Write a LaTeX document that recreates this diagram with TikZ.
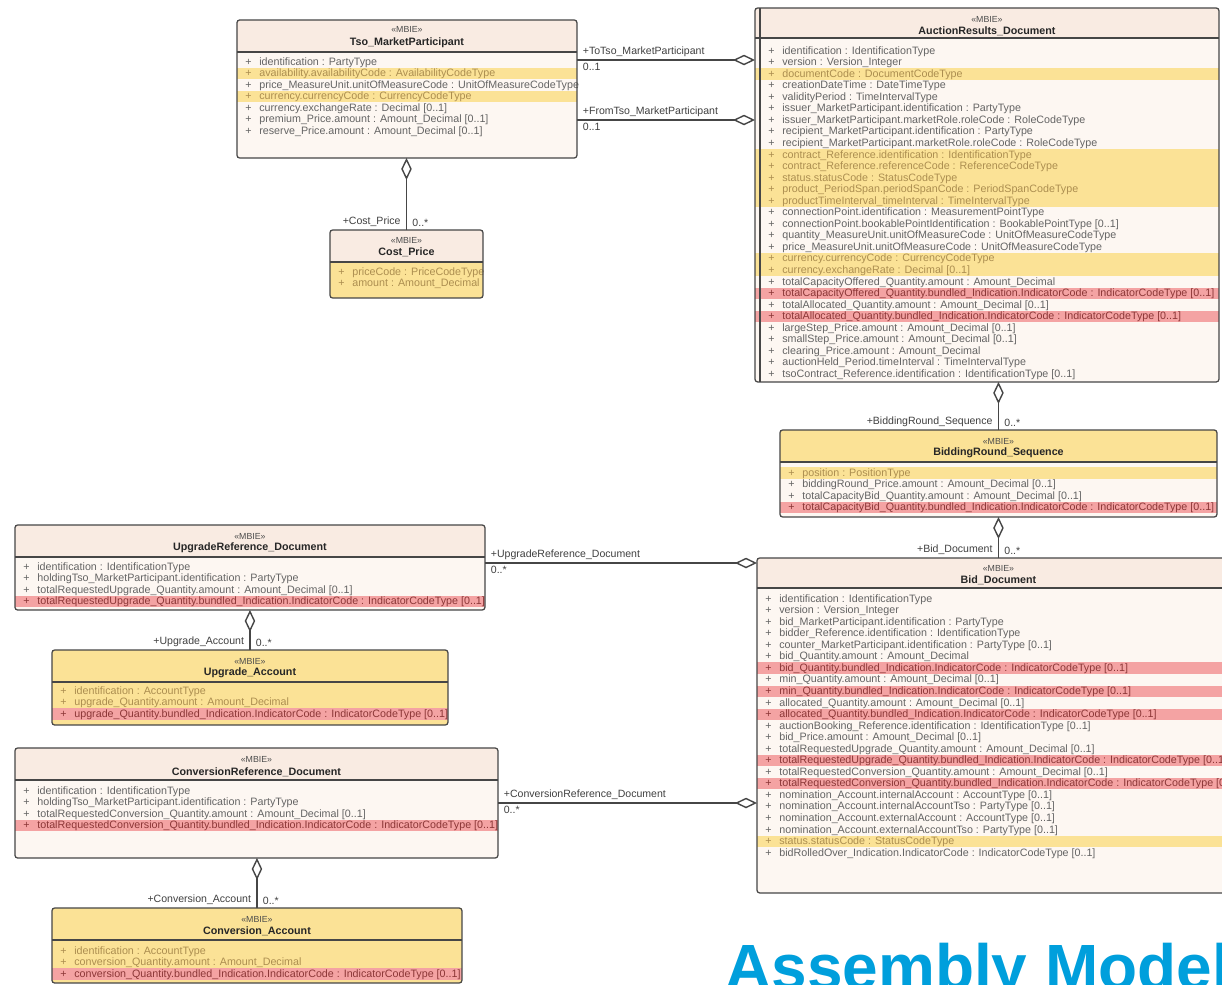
\documentclass[tikz,border=0pt]{standalone}
\usepackage{fontspec}
\setmainfont{Liberation Sans}
\usetikzlibrary{arrows.meta}

\definecolor{bodyP}{RGB}{253,247,242}
\definecolor{headP}{RGB}{249,235,226}
\definecolor{hlY}{RGB}{251,226,150}
\definecolor{hlR}{RGB}{244,163,163}
\colorlet{bandp}{bodyP}
\colorlet{bandy}{hlY}
\colorlet{bandr}{hlR}
\definecolor{textp}{RGB}{100,100,100}
\definecolor{texty}{RGB}{172,142,80}
\definecolor{textr}{RGB}{140,55,55}
\definecolor{lineC}{RGB}{70,70,70}
\definecolor{titleBlue}{RGB}{0,159,220}

\tikzset{
  classbox/.style={rectangle, anchor=north west, inner sep=0pt, outer sep=0pt, fill=bodyP},
  frame/.style={draw=lineC, line width=0.7pt, rounded corners=1.5pt},
  divider/.style={draw=lineC, line width=0.7pt},
  stereo/.style={font=\fontsize{5}{6}\selectfont, text=black!70, inner sep=0pt},
  cname/.style={font=\bfseries\fontsize{6.1}{7}\selectfont, text=black!85, inner sep=0pt},
  attr/.style={anchor=base west, inner sep=0pt, font=\fontsize{6.1}{7}\selectfont},
  role/.style={font=\fontsize{6}{7}\selectfont, text=black!75, inner xsep=3pt, inner ysep=1.5pt},
  aggr/.style={draw=lineC, line width=0.8pt, -{Diamond[fill=white, length=4.4mm, width=2.1mm]}}
}

% rows of a class: [plus offset]{class}{y of first row}{code/text list}
\newcommand{\umlrows}[4][0]{%
  \foreach \hl/\txt [count=\i] in {#4} {
    \pgfmathsetmacro{\ry}{#3+(\i-1)*11.54}
    \pgfmathsetmacro{\ya}{\ry-5.77}
    \pgfmathsetmacro{\yb}{\ry+5.77}
    \pgfmathsetmacro{\rb}{\ry+3.2}
    \fill[fill=band\hl] (#2.west |- 0,\ya) rectangle (#2.east |- 0,\yb);
    \path (#2.west |- 0,\rb) ++(8+#1,0) node[attr, text=text\hl] {+}
      ++(14,0) node[attr, text=text\hl] {\txt};
  }%
}

\begin{document}
\begin{tikzpicture}[x=0.02cm, y=-0.02cm]
  \useasboundingbox (0,0) rectangle (1222,984);
  \clip (0,0) rectangle (1222,984);
  \fill[white] (0,0) rectangle (1222,984);

  % Classes
  % Tso_MarketParticipant
  \node[classbox, minimum width=6.8cm, minimum height=2.76cm] (tso) at (237,20) {};
  \fill[headP] (tso.north west) rectangle (tso.east |- 0,52);
  \umlrows{tso}{62}{p/{identification : PartyType},
    y/{availability.availabilityCode : AvailabilityCodeType},
    p/{price\_MeasureUnit.unitOfMeasureCode : UnitOfMeasureCodeType},
    y/{currency.currencyCode : CurrencyCodeType},
    p/{currency.exchangeRate : Decimal [0..1]},
    p/{premium\_Price.amount : Amount\_Decimal [0..1]},
    p/{reserve\_Price.amount : Amount\_Decimal [0..1]}}
  \node[stereo] at (tso.north |- 0,29) {«MBIE»};
  \node[cname] at (tso.north |- 0,43) {Tso\_MarketParticipant};
  \draw[frame] (tso.north west) rectangle (tso.south east);
  \draw[divider] (tso.west |- 0,52) -- (tso.east |- 0,52);

  % Cost_Price
  \node[classbox, fill=hlY, minimum width=3.06cm, minimum height=1.36cm] (cost) at (330,230) {};
  \fill[headP] (cost.north west) rectangle (cost.east |- 0,262);
  \umlrows{cost}{272}{y/{priceCode : PriceCodeType},
    y/{amount : Amount\_Decimal}}
  \node[stereo] at (cost.north |- 0,240) {«MBIE»};
  \node[cname] at (cost.north |- 0,252) {Cost\_Price};
  \draw[frame] (cost.north west) rectangle (cost.south east);
  \draw[divider] (cost.west |- 0,262) -- (cost.east |- 0,262);

  % AuctionResults_Document
  \node[classbox, minimum width=9.28cm, minimum height=7.48cm] (ar) at (755,8) {};
  \fill[headP] (ar.north west) rectangle (ar.east |- 0,38);
  \umlrows[5]{ar}{51}{p/{identification : IdentificationType},
    p/{version : Version\_Integer},
    y/{documentCode : DocumentCodeType},
    p/{creationDateTime : DateTimeType},
    p/{validityPeriod : TimeIntervalType},
    p/{issuer\_MarketParticipant.identification : PartyType},
    p/{issuer\_MarketParticipant.marketRole.roleCode : RoleCodeType},
    p/{recipient\_MarketParticipant.identification : PartyType},
    p/{recipient\_MarketParticipant.marketRole.roleCode : RoleCodeType},
    y/{contract\_Reference.identification : IdentificationType},
    y/{contract\_Reference.referenceCode : ReferenceCodeType},
    y/{status.statusCode : StatusCodeType},
    y/{product\_PeriodSpan.periodSpanCode : PeriodSpanCodeType},
    y/{productTimeInterval\_timeInterval : TimeIntervalType},
    p/{connectionPoint.identification : MeasurementPointType},
    p/{connectionPoint.bookablePointIdentification : BookablePointType [0..1]},
    p/{quantity\_MeasureUnit.unitOfMeasureCode : UnitOfMeasureCodeType},
    p/{price\_MeasureUnit.unitOfMeasureCode : UnitOfMeasureCodeType},
    y/{currency.currencyCode : CurrencyCodeType},
    y/{currency.exchangeRate : Decimal [0..1]},
    p/{totalCapacityOffered\_Quantity.amount : Amount\_Decimal},
    r/{totalCapacityOffered\_Quantity.bundled\_Indication.IndicatorCode : IndicatorCodeType [0..1]},
    p/{totalAllocated\_Quantity.amount : Amount\_Decimal [0..1]},
    r/{totalAllocated\_Quantity.bundled\_Indication.IndicatorCode : IndicatorCodeType [0..1]},
    p/{largeStep\_Price.amount : Amount\_Decimal [0..1]},
    p/{smallStep\_Price.amount : Amount\_Decimal [0..1]},
    p/{clearing\_Price.amount : Amount\_Decimal},
    p/{auctionHeld\_Period.timeInterval : TimeIntervalType},
    p/{tsoContract\_Reference.identification : IdentificationType [0..1]}}
  \node[stereo] at (ar.north |- 0,19) {«MBIE»};
  \node[cname] at (ar.north |- 0,31) {AuctionResults\_Document};
  \draw[frame] (ar.north west) rectangle (ar.south east);
  \draw[divider] (ar.west |- 0,38) -- (ar.east |- 0,38);
  \draw[divider] (760,8) -- (760,382);

  % BiddingRound_Sequence
  \node[classbox, minimum width=8.74cm, minimum height=1.74cm] (br) at (780,430) {};
  \fill[hlY] (br.north west) rectangle (br.east |- 0,462);
  \umlrows{br}{473}{y/{position : PositionType},
    p/{biddingRound\_Price.amount : Amount\_Decimal [0..1]},
    p/{totalCapacityBid\_Quantity.amount : Amount\_Decimal [0..1]},
    r/{totalCapacityBid\_Quantity.bundled\_Indication.IndicatorCode : IndicatorCodeType [0..1]}}
  \node[stereo] at (br.north |- 0,441) {«MBIE»};
  \node[cname] at (br.north |- 0,453) {BiddingRound\_Sequence};
  \draw[frame] (br.north west) rectangle (br.south east);
  \draw[divider] (br.west |- 0,462) -- (br.east |- 0,462);

  % Bid_Document
  \node[classbox, minimum width=9.66cm, minimum height=6.7cm] (bid) at (757,558) {};
  \fill[headP] (bid.north west) rectangle (bid.east |- 0,588);
  \umlrows{bid}{599}{p/{identification : IdentificationType},
    p/{version : Version\_Integer},
    p/{bid\_MarketParticipant.identification : PartyType},
    p/{bidder\_Reference.identification : IdentificationType},
    p/{counter\_MarketParticipant.identification : PartyType [0..1]},
    p/{bid\_Quantity.amount : Amount\_Decimal},
    r/{bid\_Quantity.bundled\_Indication.IndicatorCode : IndicatorCodeType [0..1]},
    p/{min\_Quantity.amount : Amount\_Decimal [0..1]},
    r/{min\_Quantity.bundled\_Indication.IndicatorCode : IndicatorCodeType [0..1]},
    p/{allocated\_Quantity.amount : Amount\_Decimal [0..1]},
    r/{allocated\_Quantity.bundled\_Indication.IndicatorCode : IndicatorCodeType [0..1]},
    p/{auctionBooking\_Reference.identification : IdentificationType [0..1]},
    p/{bid\_Price.amount : Amount\_Decimal [0..1]},
    p/{totalRequestedUpgrade\_Quantity.amount : Amount\_Decimal [0..1]},
    r/{totalRequestedUpgrade\_Quantity.bundled\_Indication.IndicatorCode : IndicatorCodeType [0..1]},
    p/{totalRequestedConversion\_Quantity.amount : Amount\_Decimal [0..1]},
    r/{totalRequestedConversion\_Quantity.bundled\_Indication.IndicatorCode : IndicatorCodeType [0..1]},
    p/{nomination\_Account.internalAccount : AccountType [0..1]},
    p/{nomination\_Account.internalAccountTso : PartyType [0..1]},
    p/{nomination\_Account.externalAccount : AccountType [0..1]},
    p/{nomination\_Account.externalAccountTso : PartyType [0..1]},
    y/{status.statusCode : StatusCodeType},
    p/{bidRolledOver\_Indication.IndicatorCode : IndicatorCodeType [0..1]}}
  \node[stereo] at (bid.north |- 0,568) {«MBIE»};
  \node[cname] at (bid.north |- 0,580) {Bid\_Document};
  \draw[frame] (bid.north west) rectangle (bid.south east);
  \draw[divider] (bid.west |- 0,588) -- (bid.east |- 0,588);

  % UpgradeReference_Document
  \node[classbox, minimum width=9.4cm, minimum height=1.7cm] (upg) at (15,525) {};
  \fill[headP] (upg.north west) rectangle (upg.east |- 0,557);
  \umlrows{upg}{567}{p/{identification : IdentificationType},
    p/{holdingTso\_MarketParticipant.identification : PartyType},
    p/{totalRequestedUpgrade\_Quantity.amount : Amount\_Decimal [0..1]},
    r/{totalRequestedUpgrade\_Quantity.bundled\_Indication.IndicatorCode : IndicatorCodeType [0..1]}}
  \node[stereo] at (upg.north |- 0,536) {«MBIE»};
  \node[cname] at (upg.north |- 0,548) {UpgradeReference\_Document};
  \draw[frame] (upg.north west) rectangle (upg.south east);
  \draw[divider] (upg.west |- 0,557) -- (upg.east |- 0,557);

  % Upgrade_Account
  \node[classbox, fill=hlY, minimum width=7.92cm, minimum height=1.5cm] (ua) at (52,650) {};
  \umlrows{ua}{691}{y/{identification : AccountType},
    y/{upgrade\_Quantity.amount : Amount\_Decimal},
    r/{upgrade\_Quantity.bundled\_Indication.IndicatorCode : IndicatorCodeType [0..1]}}
  \node[stereo] at (ua.north |- 0,661) {«MBIE»};
  \node[cname] at (ua.north |- 0,673) {Upgrade\_Account};
  \draw[frame] (ua.north west) rectangle (ua.south east);
  \draw[divider] (ua.west |- 0,682) -- (ua.east |- 0,682);

  % ConversionReference_Document
  \node[classbox, minimum width=9.66cm, minimum height=2.2cm] (conv) at (15,748) {};
  \fill[headP] (conv.north west) rectangle (conv.east |- 0,780);
  \umlrows{conv}{791}{p/{identification : IdentificationType},
    p/{holdingTso\_MarketParticipant.identification : PartyType},
    p/{totalRequestedConversion\_Quantity.amount : Amount\_Decimal [0..1]},
    r/{totalRequestedConversion\_Quantity.bundled\_Indication.IndicatorCode : IndicatorCodeType [0..1]}}
  \node[stereo] at (conv.north |- 0,759) {«MBIE»};
  \node[cname] at (conv.north |- 0,772) {ConversionReference\_Document};
  \draw[frame] (conv.north west) rectangle (conv.south east);
  \draw[divider] (conv.west |- 0,780) -- (conv.east |- 0,780);

  % Conversion_Account
  \node[classbox, fill=hlY, minimum width=8.2cm, minimum height=1.5cm] (ca) at (52,908) {};
  \umlrows{ca}{951}{y/{identification : AccountType},
    y/{conversion\_Quantity.amount : Amount\_Decimal},
    r/{conversion\_Quantity.bundled\_Indication.IndicatorCode : IndicatorCodeType [0..1]}}
  \node[stereo] at (ca.north |- 0,919) {«MBIE»};
  \node[cname] at (ca.north |- 0,931) {Conversion\_Account};
  \draw[frame] (ca.north west) rectangle (ca.south east);
  \draw[divider] (ca.west |- 0,940) -- (ca.east |- 0,940);

  % Associations
  \draw[aggr] (tso.east |- 0,60) -- (ar.west |- 0,60)
    node[role, pos=0, anchor=south west] {+ToTso\_MarketParticipant}
    node[role, pos=0, anchor=north west] {0..1};
  \draw[aggr] (tso.east |- 0,120) -- (ar.west |- 0,120)
    node[role, pos=0, anchor=south west] {+FromTso\_MarketParticipant}
    node[role, pos=0, anchor=north west] {0..1};
  \draw[aggr] (cost.north) -- (cost.north |- tso.south)
    node[role, pos=0, anchor=south east] {+Cost\_Price}
    node[role, pos=0, anchor=south west] {0..*};
  \draw[aggr] (br.north) -- (br.north |- ar.south)
    node[role, pos=0, anchor=south east] {+BiddingRound\_Sequence}
    node[role, pos=0, anchor=south west] {0..*};
  \draw[aggr] (bid.north -| br.south) -- (br.south)
    node[role, pos=0, anchor=south east] {+Bid\_Document}
    node[role, pos=0, anchor=south west] {0..*};
  \draw[aggr] (upg.east |- 0,563) -- (bid.west |- 0,563)
    node[role, pos=0, anchor=south west] {+UpgradeReference\_Document}
    node[role, pos=0, anchor=north west] {0..*};
  \draw[aggr] (ua.north) -- (ua.north |- upg.south)
    node[role, pos=0, anchor=south east] {+Upgrade\_Account}
    node[role, pos=0, anchor=south west] {0..*};
  \draw[aggr] (conv.east |- 0,803) -- (bid.west |- 0,803)
    node[role, pos=0, anchor=south west] {+ConversionReference\_Document}
    node[role, pos=0, anchor=north west] {0..*};
  \draw[aggr] (ca.north) -- (ca.north |- conv.south)
    node[role, pos=0, anchor=south east] {+Conversion\_Account}
    node[role, pos=0, anchor=south west] {0..*};

  % Title
  \node[anchor=base west, inner sep=0pt, text=titleBlue,
    font=\bfseries\fontsize{36.4}{40}\selectfont] (title) at (725,989) {Assembly Model};
\end{tikzpicture}
\end{document}
